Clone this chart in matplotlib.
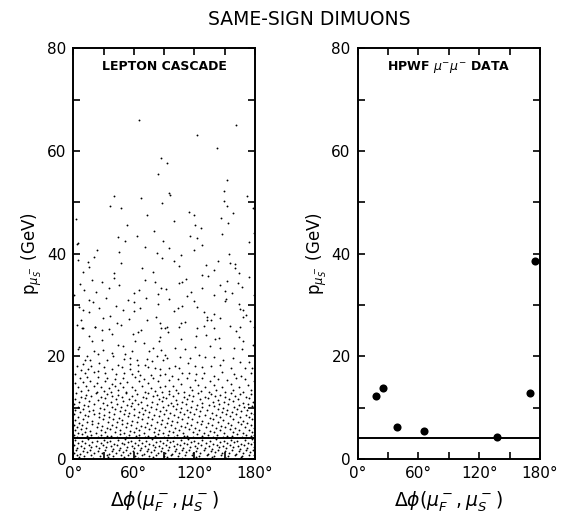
import matplotlib.pyplot as plt
from matplotlib.ticker import MultipleLocator

# HPWF mu- mu- events
hpwf_phi = [17.8, 25.0, 38.8, 65.2, 137.5, 170.5, 175.0]
hpwf_p = [12.3, 13.8, 6.2, 5.5, 4.35, 12.8, 38.6]

# p cut on the slow muon
p_cut = 4.1

# lepton cascade Monte Carlo, upper part (p > 13 GeV)
mc_high = [
    (65.4, 66.1), (161.2, 65.0), (122.5, 63.2), (142.4, 60.6), (86.5, 58.6),
    (93.1, 57.6), (83.6, 55.6), (151.9, 54.3), (149.3, 52.3), (40.6, 51.3),
    (94.5, 51.8), (95.8, 51.5), (67.1, 50.8), (172.4, 51.2), (149.3, 50.2),
    (36.0, 49.3), (87.9, 49.9), (151.9, 49.2), (47.2, 48.8), (177.7, 48.8),
    (157.9, 47.9), (2.6, 46.7), (114.3, 48.2), (119.9, 47.5), (73.3, 47.6),
    (146.6, 46.9), (100.1, 46.4), (153.3, 45.9), (53.5, 45.6), (120.6, 45.5),
    (126.2, 45.0), (79.9, 44.4), (178.7, 44.1), (147.3, 43.8), (44.0, 43.2),
    (63.4, 43.5), (115.3, 43.4), (122.5, 43.0), (51.2, 42.5), (88.5, 42.5),
    (4.6, 42.1), (174.4, 42.2),
    (4.0, 41.9), (71.4, 41.3), (23.8, 40.8), (45.6, 40.4), (83.2, 40.1),
    (20.2, 39.3), (87.5, 39.2), (4.3, 38.8), (14.6, 38.4), (47.2, 38.1),
    (15.6, 37.4), (67.7, 37.2), (9.6, 36.4), (40.6, 36.2), (79.0, 36.5),
    (40.0, 35.3), (18.2, 34.9), (71.0, 34.9), (80.9, 34.5), (28.4, 34.5),
    (6.6, 34.0), (45.6, 33.8), (35.4, 33.4), (86.9, 33.3), (10.6, 33.0),
    (22.5, 32.5), (64.8, 32.9), (60.5, 32.4), (1.0, 32.0), (83.9, 32.1),
    (72.3, 31.3), (32.1, 31.3), (54.2, 30.9), (15.2, 30.9), (60.5, 30.5),
    (19.8, 30.6), (42.3, 29.8), (83.6, 30.2), (6.0, 29.7), (25.8, 29.5),
    (66.4, 29.4), (10.0, 29.0), (49.2, 29.0), (15.2, 28.7), (60.1, 28.9),
    (36.4, 27.9), (29.1, 27.5), (55.2, 27.3), (72.7, 27.1), (81.9, 27.7),
    (7.6, 27.1), (43.6, 26.4), (85.9, 26.5), (3.3, 26.2), (21.2, 25.8),
    (47.6, 26.1), (8.9, 25.6),
    (127.8, 41.6), (95.1, 41.1), (120.0, 40.7), (107.1, 39.7), (154.4, 40.0),
    (99.8, 38.6), (143.4, 38.6), (155.7, 38.2), (160.3, 38.0), (104.8, 37.5),
    (131.9, 37.8), (160.0, 37.3), (139.1, 36.8), (163.9, 36.3), (127.2, 35.8),
    (133.5, 35.6), (174.4, 35.4), (112.0, 35.0), (108.0, 34.5), (151.9, 34.7),
    (162.9, 34.3), (104.5, 34.2), (145.3, 33.8), (127.8, 33.4), (167.1, 33.6),
    (91.5, 33.1), (149.9, 32.8), (116.6, 32.6), (157.5, 32.3), (139.1, 31.9),
    (113.0, 31.7), (95.1, 31.2), (151.3, 31.2), (150.6, 30.7), (120.0, 30.7),
    (179.0, 32.0), (122.8, 29.7), (164.5, 30.1), (107.7, 29.8), (103.4, 29.4),
    (165.6, 29.3), (100.1, 28.9), (168.3, 29.0), (129.1, 28.6), (139.5, 28.2),
    (171.5, 28.1), (132.2, 27.7), (145.0, 27.5), (132.9, 27.1), (136.5, 27.1),
    (168.6, 27.6), (110.6, 26.7), (175.0, 26.8), (106.4, 26.4), (129.1, 25.9),
    (139.1, 25.6), (154.8, 25.9), (165.2, 25.8), (179.0, 25.8), (92.5, 25.8),
]

# 13 - 26 GeV
mc_mid = [
    (9.3, 25.5), (21.1, 25.8), (28.4, 25.1), (35.0, 25.3), (64.0, 24.8),
    (67.0, 25.1), (86.8, 25.6), (15.8, 24.0), (38.6, 24.3), (58.7, 24.3),
    (85.8, 23.8), (18.5, 23.0), (28.4, 23.2), (61.1, 23.0), (70.0, 22.5),
    (84.5, 23.0), (5.9, 21.8), (4.6, 21.4), (43.9, 22.2), (48.8, 22.1),
    (78.5, 21.7), (74.9, 21.0), (20.5, 21.0), (29.7, 21.2), (38.0, 20.6),
    (50.8, 20.5), (57.8, 21.0), (87.1, 21.3), (13.9, 20.0), (24.1, 20.4),
    (39.6, 20.1), (83.2, 20.1), (11.2, 19.35), (16.8, 19.2), (25.1, 18.7),
    (33.0, 19.2), (49.8, 19.5), (56.4, 19.7), (63.0, 19.2), (73.3, 19.4),
    (77.9, 19.1), (88.8, 19.35), (3.6, 18.2), (9.2, 18.5), (17.2, 18.05),
    (30.0, 18.0), (44.6, 18.4), (56.4, 18.6), (64.4, 18.4), (71.3, 18.4),
    (80.9, 17.8), (7.6, 17.3), (14.5, 17.6), (24.8, 17.2), (38.6, 17.5),
    (48.5, 17.9), (56.1, 17.5), (64.0, 17.2), (73.9, 17.9), (85.8, 17.6),
    (2.0, 16.6), (11.2, 16.7), (20.8, 16.9), (31.4, 16.75), (42.6, 16.5),
    (50.5, 16.8), (58.1, 16.5), (66.3, 16.4), (77.2, 16.4), (86.1, 16.4),
    (6.3, 15.7), (13.5, 16.0), (24.4, 16.0), (33.3, 15.7), (41.3, 15.65),
    (49.2, 15.85), (61.4, 15.9), (70.3, 15.65), (79.2, 15.7), (1.7, 14.8),
    (9.9, 15.0), (16.5, 15.1), (23.1, 14.9), (31.4, 15.1), (38.6, 14.7),
    (46.2, 14.9), (53.5, 15.0), (64.7, 15.1), (73.6, 14.8), (83.8, 15.2),
    (4.6, 14.0), (12.5, 14.2), (20.5, 14.2), (27.1, 14.0), (35.6, 13.8),
    (41.3, 14.15), (48.8, 14.0), (57.8, 14.0), (67.7, 14.15), (76.9, 13.8),
    (85.8, 14.1), (7.3, 13.2), (14.9, 13.4), (23.1, 13.1), (30.4, 13.25),
    (37.3, 13.1), (44.6, 13.4), (52.1, 13.05), (61.1, 13.45), (71.0, 13.1),
    (80.9, 13.3), (88.1, 13.1),
    (90.5, 25.6), (105.1, 25.8), (122.9, 25.45), (93.8, 24.7), (107.0, 23.4),
    (121.2, 23.9), (131.4, 24.15), (140.0, 23.4), (144.0, 23.5), (164.4, 23.8),
    (161.1, 24.9), (168.1, 23.0), (100.4, 21.55), (110.3, 21.4), (120.9, 21.8),
    (135.1, 22.1), (145.6, 21.55), (159.2, 21.55), (167.1, 21.4), (178.0, 22.3),
    (90.5, 20.25), (92.5, 19.7), (106.0, 19.9), (115.6, 19.7), (124.8, 20.25),
    (130.5, 19.9), (139.7, 19.9), (148.3, 19.35), (157.9, 19.7), (165.1, 18.8),
    (173.7, 18.8), (94.5, 17.8), (100.4, 18.05), (105.1, 17.7), (113.6, 18.7),
    (120.6, 18.05), (127.2, 17.9), (136.7, 18.05), (145.6, 18.3), (155.9, 17.8),
    (169.7, 17.7), (177.3, 17.8), (91.2, 16.6), (98.1, 16.2), (107.7, 16.8),
    (115.0, 16.75), (121.9, 16.5), (129.8, 16.75), (139.0, 16.2), (147.3, 17.0),
    (158.8, 16.6), (166.4, 16.2), (175.7, 16.75), (94.5, 15.45), (103.7, 15.6),
    (112.6, 15.7), (120.9, 15.3), (127.5, 15.85), (135.7, 15.2), (143.3, 15.6),
    (152.6, 15.4), (161.1, 15.7), (170.4, 15.6), (178.6, 15.1), (90.9, 14.3),
    (98.4, 14.3), (107.0, 14.7), (115.3, 14.1), (123.2, 14.5), (130.8, 14.0),
    (139.7, 14.4), (147.6, 14.0), (156.5, 14.7), (164.1, 14.0), (173.3, 14.4),
    (94.5, 13.25), (101.7, 13.4), (109.7, 13.1), (117.9, 13.4), (126.2, 13.25),
    (134.1, 13.1), (141.7, 13.4), (150.0, 13.1), (158.5, 13.4), (167.8, 13.1),
    (176.3, 13.4),
]

# 4 - 13 GeV
mc_low = [
    (3, 12.8), (13, 12.5), (22, 12.9), (33, 12.6), (44, 12.4), (52, 12.8),
    (63, 12.6), (74, 12.9), (83, 12.5), (95, 12.7), (104, 12.9), (115, 12.5),
    (124, 12.8), (136, 12.6), (145, 12.4), (156, 12.8), (165, 12.6), (176, 12.7),
    (8, 12.1), (18, 12.3), (27, 12.0), (38, 12.2), (48, 12.0), (58, 12.3),
    (69, 12.1), (79, 12.2), (89, 12.0), (99, 12.3), (110, 12.1), (119, 12.2),
    (130, 12.0), (140, 12.3), (150, 12.1), (160, 12.2), (171, 12.0),
    (2, 11.6), (12, 11.8), (24, 11.5), (31, 11.8), (42, 11.6), (55, 11.7),
    (61, 11.5), (72, 11.8), (85, 11.6), (92, 11.8), (102, 11.5), (113, 11.7),
    (126, 11.6), (133, 11.8), (143, 11.5), (154, 11.7), (163, 11.6), (174, 11.8),
    (6, 11.1), (16, 11.3), (29, 11.0), (37, 11.2), (49, 11.3), (58, 11.0),
    (67, 11.2), (78, 11.1), (88, 11.3), (97, 11.0), (108, 11.2), (118, 11.3),
    (128, 11.0), (138, 11.2), (149, 11.1), (158, 11.3), (168, 11.0), (178, 11.2),
    (1, 10.7), (11, 10.5), (21, 10.8), (33, 10.6), (43, 10.8), (53, 10.5),
    (64, 10.7), (73, 10.6), (83, 10.8), (94, 10.5), (103, 10.7), (112, 10.8),
    (123, 10.6), (134, 10.5), (144, 10.7), (153, 10.8), (164, 10.5), (173, 10.7),
    (5, 10.1), (15, 10.3), (26, 10.0), (38, 10.2), (47, 10.1), (57, 10.3),
    (68, 10.0), (77, 10.2), (89, 10.1), (99, 10.3), (107, 10.0), (117, 10.2),
    (128, 10.1), (139, 10.3), (148, 10.0), (159, 10.2), (169, 10.1), (177, 10.3),
    (2, 9.6), (10, 9.8), (20, 9.5), (30, 9.7), (41, 9.8), (51, 9.5),
    (60, 9.7), (71, 9.6), (82, 9.8), (92, 9.5), (102, 9.7), (113, 9.6),
    (122, 9.8), (132, 9.5), (143, 9.7), (152, 9.6), (162, 9.8), (172, 9.5),
    (7, 9.1), (16, 9.3), (25, 9.0), (35, 9.2), (46, 9.3), (55, 9.0),
    (65, 9.2), (75, 9.1), (86, 9.3), (96, 9.0), (106, 9.2), (116, 9.1),
    (126, 9.3), (137, 9.0), (147, 9.2), (157, 9.1), (166, 9.3), (176, 9.0),
    (1, 8.7), (12, 8.6), (21, 8.8), (30, 8.5), (40, 8.7), (50, 8.8),
    (60, 8.5), (69, 8.7), (80, 8.6), (90, 8.8), (100, 8.5), (110, 8.7),
    (120, 8.8), (130, 8.6), (141, 8.5), (151, 8.7), (161, 8.8), (171, 8.6), (179, 8.7),
    (5, 8.2), (15, 8.3), (25, 8.1), (35, 8.2), (45, 8.0), (54, 8.3),
    (64, 8.1), (74, 8.2), (85, 8.3), (94, 8.0), (104, 8.2), (114, 8.1),
    (125, 8.3), (135, 8.0), (145, 8.2), (155, 8.3), (165, 8.1), (174, 8.2),
    (2, 7.6), (10, 7.8), (19, 7.5), (29, 7.7), (39, 7.8), (48, 7.6),
    (58, 7.5), (68, 7.7), (78, 7.8), (88, 7.6), (98, 7.5), (108, 7.7),
    (118, 7.8), (128, 7.5), (138, 7.7), (148, 7.6), (158, 7.8), (168, 7.5), (177, 7.7),
    (6, 7.1), (14, 7.3), (24, 7.0), (34, 7.2), (43, 7.3), (53, 7.1),
    (63, 7.2), (73, 7.0), (83, 7.3), (93, 7.1), (103, 7.2), (113, 7.0),
    (123, 7.3), (133, 7.1), (143, 7.2), (153, 7.0), (163, 7.3), (172, 7.1),
    (1, 6.7), (9, 6.6), (19, 6.8), (28, 6.5), (38, 6.7), (48, 6.8),
    (57, 6.6), (67, 6.5), (77, 6.7), (87, 6.8), (97, 6.6), (107, 6.5),
    (117, 6.7), (127, 6.8), (137, 6.6), (146, 6.5), (156, 6.7), (166, 6.8), (176, 6.6),
    (4, 6.2), (13, 6.1), (23, 6.3), (33, 6.0), (42, 6.2), (52, 6.3),
    (62, 6.1), (71, 6.2), (81, 6.0), (91, 6.3), (101, 6.1), (111, 6.2),
    (121, 6.0), (131, 6.3), (141, 6.1), (150, 6.2), (160, 6.0), (170, 6.3), (179, 6.1),
    (2, 5.6), (8, 5.8), (17, 5.5), (27, 5.7), (36, 5.8), (46, 5.6),
    (56, 5.5), (65, 5.7), (75, 5.8), (85, 5.6), (95, 5.5), (105, 5.7),
    (115, 5.8), (125, 5.6), (135, 5.5), (145, 5.7), (155, 5.8), (164, 5.6), (174, 5.7),
    (5, 5.1), (12, 5.3), (22, 5.0), (31, 5.2), (41, 5.3), (50, 5.1),
    (60, 5.2), (70, 5.0), (80, 5.3), (89, 5.1), (99, 5.2), (109, 5.0),
    (119, 5.3), (129, 5.1), (139, 5.2), (149, 5.0), (158, 5.3), (168, 5.1), (177, 5.2),
    (1, 4.7), (9, 4.8), (18, 4.6), (27, 4.7), (37, 4.5), (46, 4.8),
    (55, 4.6), (65, 4.7), (74, 4.5), (84, 4.8), (94, 4.6), (103, 4.7),
    (113, 4.5), (123, 4.8), (133, 4.6), (142, 4.7), (152, 4.5), (162, 4.8), (171, 4.6), (179, 4.7),
    (4, 4.35), (14, 4.4), (24, 4.3), (33, 4.4), (43, 4.35), (52, 4.3),
    (62, 4.4), (71, 4.3), (81, 4.4), (90, 4.35), (100, 4.3), (110, 4.4),
    (119, 4.3), (128, 4.4), (138, 4.35), (148, 4.3), (157, 4.4), (167, 4.3), (176, 4.4),
]

# below the cut
mc_cut = [
    (2, 3.7), (9, 3.5), (15, 3.8), (23, 3.6), (30, 3.75), (36, 3.5), (44, 3.7),
    (51, 3.85), (57, 3.55), (65, 3.7), (72, 3.5), (78, 3.8), (86, 3.6), (93, 3.75),
    (99, 3.5), (107, 3.7), (114, 3.85), (120, 3.55), (128, 3.7), (135, 3.5),
    (141, 3.8), (149, 3.6), (156, 3.75), (162, 3.5), (170, 3.7), (177, 3.8),
    (5, 3.2), (12, 3.05), (19, 3.3), (27, 3.1), (33, 3.25), (40, 3.0), (48, 3.2),
    (54, 3.35), (61, 3.1), (68, 3.2), (75, 3.0), (82, 3.3), (89, 3.15), (96, 3.25),
    (103, 3.0), (110, 3.2), (117, 3.35), (124, 3.1), (131, 3.2), (138, 3.0),
    (145, 3.3), (152, 3.1), (159, 3.25), (166, 3.0), (173, 3.2), (179, 3.3),
    (1, 2.7), (8, 2.55), (16, 2.8), (22, 2.6), (29, 2.75), (37, 2.5), (43, 2.7),
    (50, 2.85), (58, 2.55), (64, 2.7), (71, 2.5), (79, 2.8), (85, 2.6), (92, 2.75),
    (100, 2.5), (106, 2.7), (113, 2.85), (121, 2.55), (127, 2.7), (134, 2.5),
    (142, 2.8), (148, 2.6), (155, 2.75), (163, 2.5), (169, 2.7), (176, 2.85),
    (4, 2.2), (11, 2.05), (18, 2.3), (25, 2.1), (32, 2.25), (39, 2.0), (46, 2.2),
    (53, 2.35), (60, 2.1), (67, 2.2), (74, 2.0), (81, 2.3), (88, 2.15), (95, 2.25),
    (102, 2.0), (109, 2.2), (116, 2.35), (123, 2.1), (130, 2.2), (137, 2.0),
    (144, 2.3), (151, 2.1), (158, 2.25), (165, 2.0), (172, 2.2), (179, 2.35),
    (3, 1.7), (10, 1.55), (17, 1.8), (24, 1.6), (31, 1.75), (38, 1.5), (45, 1.7),
    (52, 1.85), (59, 1.55), (66, 1.7), (73, 1.5), (80, 1.8), (87, 1.6), (94, 1.75),
    (101, 1.5), (108, 1.7), (115, 1.85), (122, 1.55), (129, 1.7), (136, 1.5),
    (143, 1.8), (150, 1.6), (157, 1.75), (164, 1.5), (171, 1.7), (178, 1.8),
    (1, 1.2), (7, 1.05), (14, 1.3), (21, 1.1), (28, 1.25), (35, 1.0), (42, 1.2),
    (49, 1.35), (56, 1.1), (63, 1.2), (70, 1.0), (77, 1.3), (84, 1.15), (91, 1.25),
    (98, 1.0), (105, 1.2), (112, 1.35), (119, 1.1), (126, 1.2), (133, 1.0),
    (140, 1.3), (147, 1.1), (154, 1.25), (161, 1.0), (168, 1.2), (175, 1.35),
    (4, 0.7), (11, 0.55), (18, 0.8), (26, 0.6), (33, 0.75), (39, 0.5), (47, 0.7),
    (54, 0.85), (61, 0.55), (68, 0.7), (75, 0.5), (82, 0.8), (90, 0.6), (97, 0.75),
    (104, 0.5), (111, 0.7), (118, 0.85), (125, 0.55), (132, 0.7), (139, 0.5),
    (146, 0.8), (153, 0.6), (160, 0.75), (167, 0.5), (174, 0.7), (179, 0.85),
    (6, 0.3), (20, 0.25), (34, 0.35), (50, 0.3), (64, 0.25), (79, 0.35),
    (93, 0.3), (108, 0.25), (122, 0.35), (137, 0.3), (151, 0.25), (166, 0.35),
]

mc_pts = mc_high + mc_mid + mc_low + mc_cut
mc_phi = [pt[0] for pt in mc_pts]
mc_p = [pt[1] for pt in mc_pts]

plt.rcParams['font.family'] = 'DejaVu Sans'

fig = plt.figure(figsize=(5.63, 5.14), dpi=100)
ax1 = fig.add_axes([0.1302, 0.107, 0.3227, 0.799])
ax2 = fig.add_axes([0.6353, 0.107, 0.3238, 0.799])

ax1.scatter(mc_phi, mc_p, s=1.8, color='black', linewidths=0)
ax2.scatter(hpwf_phi, hpwf_p, s=34, color='black', linewidths=0, zorder=3)

for ax, tag in ((ax1, 'LEPTON CASCADE'), (ax2, r'HPWF $\mu^{-}\mu^{-}$ DATA')):
    ax.axhline(p_cut, color='black', lw=1.4)
    ax.set_xlim(0, 180)
    ax.set_ylim(0, 80)
    ax.xaxis.set_major_locator(MultipleLocator(60))
    ax.xaxis.set_minor_locator(MultipleLocator(30))
    ax.yaxis.set_major_locator(MultipleLocator(20))
    ax.yaxis.set_minor_locator(MultipleLocator(10))
    ax.set_xticks([0, 60, 120, 180])
    ax.set_xticklabels(['0°', '60°', '120°', '180°'])
    ax.tick_params(which='both', direction='in', top=True, right=True,
                   length=5, width=1.2, labelsize=11, pad=5)
    for sp in ax.spines.values():
        sp.set_linewidth(1.4)
    ax.text(0.5, 0.955, tag, transform=ax.transAxes, ha='center', va='center',
            fontsize=9, fontweight='bold')
    ax.set_xlabel(r'$\Delta\phi(\mu^-_F,\mu^-_S)$', fontsize=13.5, labelpad=6)
    ax.set_ylabel(r'$\mathrm{p}_{\mu^-_S}$ (GeV)', fontsize=12, labelpad=2)

fig.text(0.55, 0.962, 'SAME-SIGN DIMUONS', ha='center', va='center',
         fontsize=13.5)

fig.savefig('out.png', dpi=100)
